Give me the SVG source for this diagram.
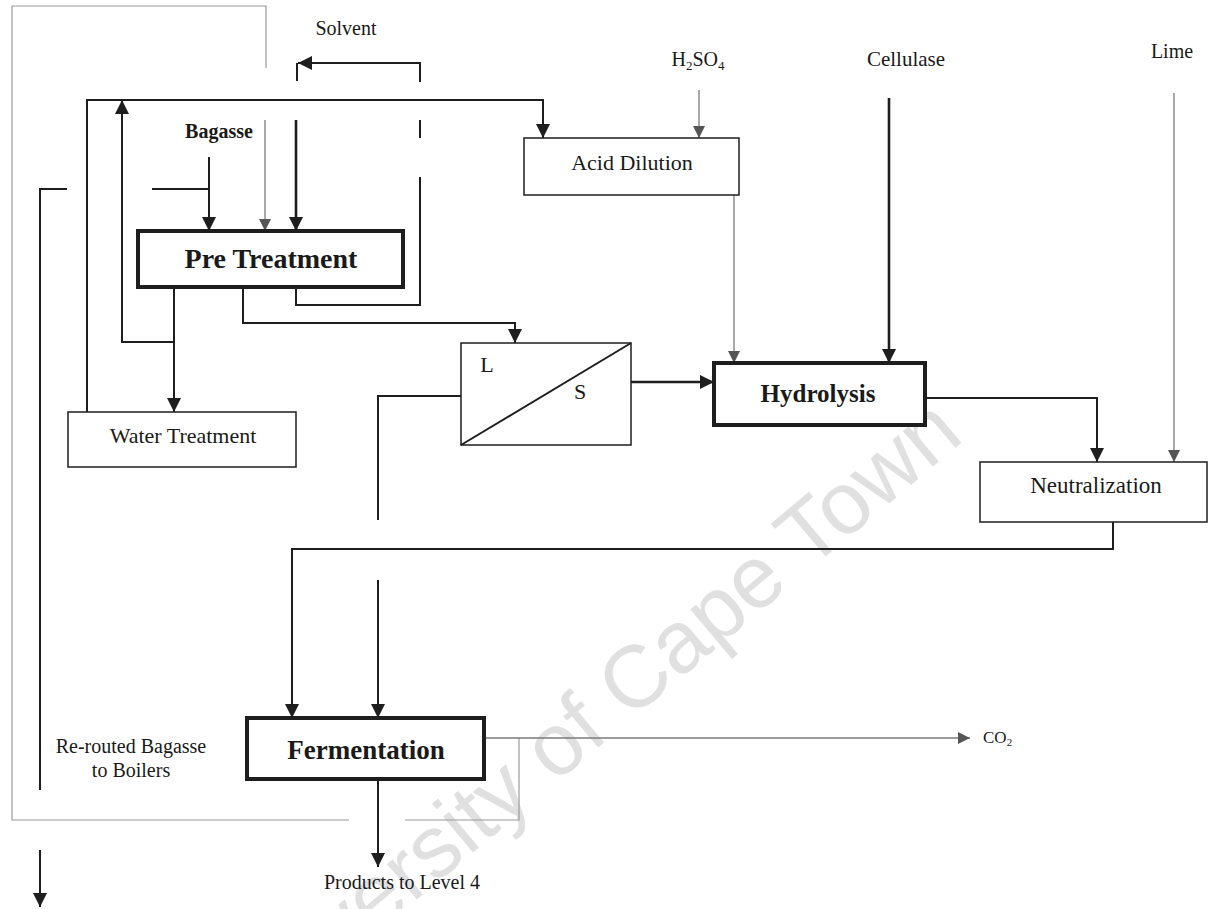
<svg xmlns="http://www.w3.org/2000/svg" width="1208" height="909" viewBox="0 0 1208 909">
  <defs>
    <style>
      .bg { fill: #ffffff; }
      .box { fill: #ffffff; stroke: #1e1e1e; stroke-width: 1.5; }
      .box-bold { fill: #ffffff; stroke: #1e1e1e; stroke-width: 4; }
      .ln { fill: none; stroke: #1e1e1e; stroke-width: 2; }
      .ln-heavy { fill: none; stroke: #1e1e1e; stroke-width: 2.6; }
      .ln-grey { fill: none; stroke: #7a7a7a; stroke-width: 1.3; }
      .ln-loop { fill: none; stroke: #9a9a9a; stroke-width: 1.2; }
      .t { font-family: "Liberation Serif", "Times New Roman", serif; fill: #1a1a1a; }
      .tb { font-family: "Liberation Serif", "Times New Roman", serif; font-weight: bold; fill: #1a1a1a; }
      .wm { font-family: "Liberation Sans", Arial, sans-serif; fill: #e0e0e0; }
    </style>
    <marker id="ah" viewBox="0 0 14 14" markerWidth="14" markerHeight="14" refX="14" refY="7" orient="auto" markerUnits="userSpaceOnUse">
      <path d="M0,0 L14,7 L0,14 z" fill="#1e1e1e"/>
    </marker>
    <marker id="ah-grey" viewBox="0 0 12 12" markerWidth="12" markerHeight="12" refX="12" refY="6" orient="auto" markerUnits="userSpaceOnUse">
      <path d="M0,0 L12,6 L0,12 z" fill="#555555"/>
    </marker>
  </defs>

  <rect class="bg" x="0" y="0" width="1208" height="909"/>

  <!-- watermark -->
  <text class="wm" x="240" y="1048" font-size="88" transform="rotate(-40 240 1048)">University of Cape Town</text>

  <!-- connectors -->
  <g id="connectors">
    <!-- outer re-routing loop (thin grey) -->
    <path class="ln-loop" d="M266,68 V6 H12 V820 H349"/>
    <path class="ln-loop" d="M405,820 H519 V738"/>

    <!-- solvent return -->
    <path class="ln" d="M420,82 V63 H298" marker-end="url(#ah)"/>
    <path class="ln" d="M297,63 V81"/>

    <!-- water treatment recycle to acid dilution -->
    <path class="ln" d="M87,412 V100 H543 V138" marker-end="url(#ah)"/>
    <!-- pre treatment recycle branch -->
    <path class="ln" d="M174,342 H122 V100" marker-end="url(#ah)"/>
    <!-- pre treatment to water treatment -->
    <path class="ln" d="M174,287 V412" marker-end="url(#ah)"/>

    <!-- bagasse feed -->
    <path class="ln" d="M209,157 V231" marker-end="url(#ah)"/>
    <path class="ln" d="M152,189 H209"/>
    <!-- re-routed bagasse to boilers -->
    <path class="ln" d="M67,189 H40 V790"/>
    <path class="ln" d="M40,850 V907" marker-end="url(#ah)"/>

    <!-- inputs into pre treatment -->
    <path class="ln-grey" d="M265,120 V231" marker-end="url(#ah-grey)"/>
    <path class="ln-heavy" d="M296,120 V231" marker-end="url(#ah)"/>

    <!-- solvent recovery loop -->
    <path class="ln" d="M420,120 V138"/>
    <path class="ln" d="M296,287 V305 H420 V177"/>

    <!-- pre treatment to separator -->
    <path class="ln" d="M243,287 V323 H515 V343" marker-end="url(#ah)"/>
    <!-- separator solids to hydrolysis -->
    <path class="ln-heavy" d="M631,382 H714" marker-end="url(#ah)"/>
    <!-- separator liquids to fermentation -->
    <path class="ln" d="M461,396 H378 V520"/>
    <path class="ln" d="M378,580 V718" marker-end="url(#ah)"/>

    <!-- reagents -->
    <path class="ln-grey" d="M699,90 V138" marker-end="url(#ah-grey)"/>
    <path class="ln-grey" d="M734,195 V363" marker-end="url(#ah-grey)"/>
    <path class="ln-heavy" d="M889,98 V363" marker-end="url(#ah)"/>
    <path class="ln-grey" d="M1174,93 V462" marker-end="url(#ah-grey)"/>

    <!-- hydrolysis to neutralization -->
    <path class="ln" d="M925,398 H1097 V462" marker-end="url(#ah)"/>
    <!-- neutralization to fermentation -->
    <path class="ln" d="M1113,522 V549 H292 V718" marker-end="url(#ah)"/>

    <!-- fermentation outputs -->
    <path class="ln-grey" d="M484,738 H970" marker-end="url(#ah-grey)"/>
    <path class="ln" d="M378,779 V867" marker-end="url(#ah)"/>
  </g>

  <!-- stream labels -->
  <g id="labels">
    <text class="t" x="346" y="35" font-size="20" text-anchor="middle">Solvent</text>
    <text class="t" x="698" y="66" font-size="20" text-anchor="middle">H<tspan font-size="13" dy="4">2</tspan><tspan dy="-4">SO</tspan><tspan font-size="13" dy="4">4</tspan></text>
    <text class="t" x="906" y="66" font-size="21" text-anchor="middle">Cellulase</text>
    <text class="t" x="1172" y="58" font-size="20" text-anchor="middle">Lime</text>
    <text class="tb" x="219" y="138" font-size="20" text-anchor="middle">Bagasse</text>
    <text class="t" x="131" y="753" font-size="20" text-anchor="middle">Re-routed Bagasse</text>
    <text class="t" x="131" y="777" font-size="20" text-anchor="middle">to Boilers</text>
    <text class="t" x="983" y="743" font-size="17">CO<tspan font-size="11" dy="3">2</tspan></text>
    <text class="t" x="402" y="889" font-size="20" text-anchor="middle">Products to Level 4</text>
  </g>

  <!-- process units -->
  <g id="pre-treatment">
    <rect class="box-bold" x="138" y="231" width="265" height="56"/>
    <text class="tb" x="271" y="268" font-size="28" text-anchor="middle">Pre Treatment</text>
  </g>
  <g id="acid-dilution">
    <rect class="box" x="524" y="138" width="215" height="57"/>
    <text class="t" x="632" y="170" font-size="22" text-anchor="middle">Acid Dilution</text>
  </g>
  <g id="water-treatment">
    <rect class="box" x="68" y="412" width="228" height="55"/>
    <text class="t" x="183" y="443" font-size="22" text-anchor="middle">Water Treatment</text>
  </g>
  <g id="separator">
    <rect class="box" x="461" y="343" width="170" height="102"/>
    <line x1="461" y1="445" x2="631" y2="343" stroke="#1e1e1e" stroke-width="2"/>
    <text class="t" x="487" y="372" font-size="22" text-anchor="middle">L</text>
    <text class="t" x="580" y="399" font-size="22" text-anchor="middle">S</text>
  </g>
  <g id="hydrolysis">
    <rect class="box-bold" x="714" y="363" width="211" height="62"/>
    <text class="tb" x="818" y="402" font-size="25" text-anchor="middle">Hydrolysis</text>
  </g>
  <g id="neutralization">
    <rect class="box" x="980" y="462" width="227" height="60"/>
    <text class="t" x="1096" y="493" font-size="23" text-anchor="middle">Neutralization</text>
  </g>
  <g id="fermentation">
    <rect class="box-bold" x="247" y="718" width="237" height="61"/>
    <text class="tb" x="366" y="759" font-size="27" text-anchor="middle">Fermentation</text>
  </g>
</svg>
